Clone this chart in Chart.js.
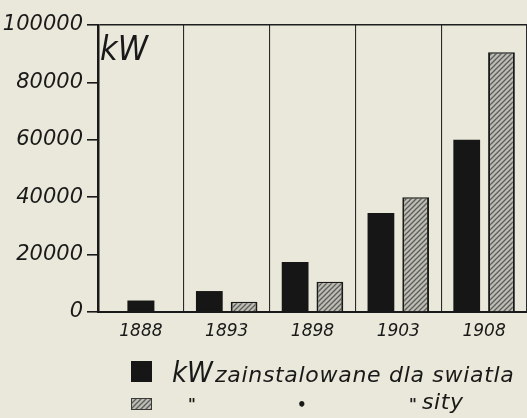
<!DOCTYPE html>
<html><head><meta charset="utf-8">
<script src="https://cdn.jsdelivr.net/npm/chart.js@4/dist/chart.umd.min.js"></script>
<style>html,body{margin:0;padding:0;background:#e9e8da;overflow:hidden}canvas{display:block}</style>
</head><body>
<canvas id="c" width="527" height="418"></canvas>
<script>
const categories = ["1888", "1893", "1898", "1903", "1908"];
const lightKW = [4000, 7300, 17400, 34500, 60000];
const powerKW = [null, 3600, 10500, 40000, 90500];
const yTicks = [0, 20000, 40000, 60000, 80000, 100000];
const unitLabel = "kW";
const legendLight = "zainstalowane dla swiatla";
const legendPower = "sity";

const INK = '#191919';
const FAM = '"DejaVu Sans", sans-serif';

function makePattern() {
  const p = document.createElement('canvas');
  p.width = 5; p.height = 5;
  const g = p.getContext('2d');
  g.fillStyle = '#bdbdb4'; g.fillRect(0, 0, 5, 5);
  g.strokeStyle = '#5c5c5a'; g.lineWidth = 1.3;
  g.beginPath();
  g.moveTo(-1, 6); g.lineTo(6, -1);
  g.moveTo(-1, 1); g.lineTo(1, -1);
  g.moveTo(4, 6); g.lineTo(6, 4);
  g.stroke();
  return g.createPattern(p, 'repeat');
}
const hatch = makePattern();

const decor = {
  id: 'decor',
  beforeDraw(chart) {
    const c = chart.ctx;
    c.save(); c.fillStyle = '#e9e8da'; c.fillRect(0, 0, chart.width, chart.height); c.restore();
  },
  afterDraw(chart) {
    const c = chart.ctx, a = chart.chartArea;
    c.save();
    c.fillStyle = INK;
    c.textBaseline = 'alphabetic';
    // unit label inside plot
    c.font = 'italic 34px "DejaVu Sans Condensed", ' + FAM;
    c.fillText(unitLabel, a.left + 2, a.top + 35);
    // legend row 1
    c.fillStyle = '#161616';
    c.fillRect(131, 361, 21, 21);
    c.fillStyle = INK;
    c.font = 'italic 29px "DejaVu Sans Condensed", ' + FAM;
    c.fillText(unitLabel, 172, 382);
    c.font = 'italic 22px ' + FAM;
    c.letterSpacing = '0.7px';
    c.fillText(legendLight, 215, 382);
    // legend row 2
    c.letterSpacing = '0px';
    c.fillStyle = hatch;
    c.fillRect(131, 398, 21, 12);
    c.strokeStyle = '#3a3a3a'; c.lineWidth = 1;
    c.strokeRect(131.5, 398.5, 20, 11);
    c.fillStyle = INK;
    c.font = 'bold italic 15px ' + FAM;
    c.fillText('"', 188, 410);
    c.fillText('•', 297, 410);
    c.fillText('"', 409, 410);
    c.font = 'italic 22px ' + FAM;
    c.letterSpacing = '0.6px';
    c.fillText(legendPower, 422, 409);
    c.restore();
  }
};

new Chart(document.getElementById('c'), {
  type: 'bar',
  data: {
    labels: categories,
    datasets: [
      { label: 'kW zainstalowane dla swiatla', data: lightKW, backgroundColor: '#161616',
        borderColor: '#161616', borderWidth: 0, skipNull: true },
      { label: 'kW zainstalowane dla sity', data: powerKW, backgroundColor: hatch,
        borderColor: '#1a1a1a', borderWidth: { left: 2, right: 2, top: 1.5, bottom: 0 }, skipNull: true }
    ]
  },
  options: {
    responsive: false,
    animation: false,
    devicePixelRatio: 1,
    layout: { padding: { top: 25, left: 0, right: 0, bottom: 0 } },
    categoryPercentage: 0.81,
    barPercentage: 0.77,
    maxBarThickness: 27,
    plugins: { legend: { display: false }, tooltip: { enabled: false } },
    scales: {
      x: {
        grid: { display: true, offset: true, color: '#2a2a2a', lineWidth: 1.1, drawTicks: false },
        border: { display: true, color: INK, width: 2 },
        ticks: { color: INK, padding: 9, font: { family: FAM, size: 17, style: 'italic' }, maxRotation: 0 },
        afterFit(s) { s.height = 106; s.paddingLeft = 0; s.paddingRight = 0; }
      },
      y: {
        min: 0, max: 100000,
        afterBuildTicks(s) { s.ticks = yTicks.map(v => ({ value: v })); },
        grid: {
          drawOnChartArea: true,
          color: (ctx) => (ctx.tick && ctx.tick.value === 100000) ? '#1e1e1e' : 'rgba(0,0,0,0)',
          tickColor: INK, tickLength: 11, lineWidth: 1.6
        },
        border: { display: true, color: INK, width: 2.5 },
        ticks: { color: INK, padding: 4, font: { family: FAM, size: 21, style: 'italic' },
          callback: (v) => String(v) },
        afterFit(s) { s.width = 98; }
      }
    }
  },
  plugins: [decor]
});
</script>
</body></html>
